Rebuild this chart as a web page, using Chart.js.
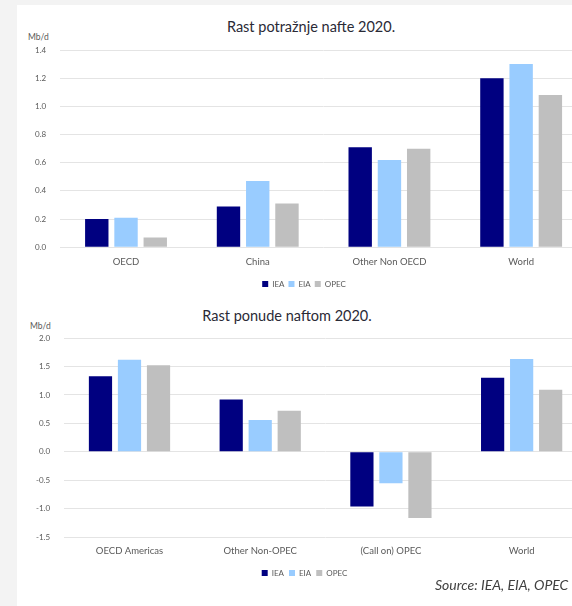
<!DOCTYPE html>
<html>
<head>
<meta charset="utf-8">
<title>Rast potražnje i ponude nafte 2020.</title>
<script src="https://cdn.jsdelivr.net/npm/chart.js"></script>
<style>
  body { margin: 0; width: 572px; height: 606px; overflow: hidden; background: #f3f3f3; position: relative; font-family: Lato, "Open Sans", sans-serif; }
  #panel { position: absolute; left: 17px; top: 5px; width: 600px; height: 620px; background: #fff; }
  .title { position: absolute; font-size: 14.5px; color: #2a2a36; white-space: nowrap; transform: translate(-50%, -50%); }
  .unit { position: absolute; font-size: 8.5px; color: #595959; }
  .box { position: absolute; left: 0; width: 628px; }
  #source { position: absolute; left: 435px; top: 576px; font-size: 14px; font-style: italic; color: #404040; white-space: nowrap; }
</style>
</head>
<body>
<div id="panel"></div>
<div class="title" style="left:311px; top:26px;">Rast potražnje nafte 2020.</div>
<div class="unit" style="left:28px; top:32px;">Mb/d</div>
<div class="box" style="top:30px; height:268px;"><canvas id="demand"></canvas></div>
<div class="title" style="left:287px; top:315px;">Rast ponude naftom 2020.</div>
<div class="unit" style="left:30px; top:321px;">Mb/d</div>
<div class="box" style="top:318px; height:269px;"><canvas id="supply"></canvas></div>
<div id="source">Source: IEA, EIA, OPEC</div>
<script>
// demand growth 2020, Mb/d
const demandCategories = ['OECD', 'China', 'Other Non OECD', 'World'];
const demandIEA = [0.20, 0.29, 0.71, 1.20];
const demandEIA = [0.21, 0.47, 0.62, 1.30];
const demandOPEC = [0.07, 0.31, 0.70, 1.08];

// supply growth 2020, Mb/d
const supplyCategories = ['OECD Americas', 'Other Non-OPEC', '(Call on) OPEC', 'World'];
const supplyIEA = [1.33, 0.92, -0.96, 1.30];
const supplyEIA = [1.62, 0.56, -0.55, 1.63];
const supplyOPEC = [1.52, 0.72, -1.16, 1.09];

const seriesNames = ['IEA', 'EIA', 'OPEC'];
const seriesColors = ['#000080', '#99ccff', '#bfbfbf'];

const tickColor = '#595959';
const gridColor = '#e4e4e4';

function makeChart(id, labels, values, min, max, step, opts) {
  new Chart(document.getElementById(id), {
    type: 'bar',
    data: {
      labels: labels,
      datasets: values.map((v, i) => ({
        label: seriesNames[i],
        data: v,
        backgroundColor: seriesColors[i],
        categoryPercentage: 0.666,
        barPercentage: 0.8
      }))
    },
    options: {
      responsive: true,
      maintainAspectRatio: false,
      animation: false,
      layout: { padding: { top: 20, left: opts.padLeft, right: 41, bottom: 0 } },
      plugins: {
        tooltip: { enabled: false },
        legend: {
          position: 'bottom',
          labels: {
            boxWidth: 6,
            boxHeight: 6,
            padding: opts.legendPad,
            color: tickColor,
            font: { family: 'Lato', size: 8 }
          }
        }
      },
      scales: {
        x: {
          grid: { display: false, drawTicks: false },
          border: { display: false },
          ticks: {
            color: tickColor,
            padding: opts.labelPad,
            font: { family: 'Lato', size: 9.5, lineHeight: 0.5 }
          }
        },
        y: {
          min: min,
          max: max,
          grid: { color: gridColor, drawTicks: false },
          border: { display: false },
          ticks: {
            stepSize: step,
            padding: 14,
            color: tickColor,
            font: { family: 'Lato', size: 8 },
            callback: v => v.toFixed(1)
          }
        }
      }
    }
  });
}

makeChart('demand', demandCategories, [demandIEA, demandEIA, demandOPEC], 0, 1.4, 0.2,
  { padLeft: 21, labelPad: 12, legendPad: 4 });
makeChart('supply', supplyCategories, [supplyIEA, supplyEIA, supplyOPEC], -1.5, 2.0, 0.5,
  { padLeft: 22, labelPad: 11, legendPad: 5 });
</script>
</body>
</html>
